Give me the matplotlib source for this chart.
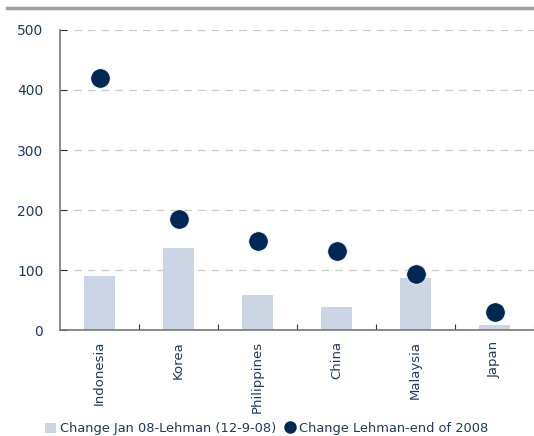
import matplotlib
matplotlib.use("Agg")
import matplotlib.pyplot as plt
from matplotlib.lines import Line2D
from matplotlib.patches import Patch

countries = ["Indonesia", "Korea", "Philippines", "China", "Malaysia", "Japan"]
change_pre_lehman = [90, 137, 58, 38, 87, 8]
change_post_lehman = [420, 185, 148, 132, 93, 30]

bar_color = "#CBD5E3"
dot_color = "#002855"
text_color = "#1F3A5F"

fig = plt.figure(figsize=(5.34, 4.36), dpi=100)
ax = fig.add_axes([0.1124, 0.2431, 0.8876, 0.6881])

x = range(len(countries))
ax.bar(x, change_pre_lehman, width=0.4, color=bar_color, zorder=2)
ax.plot(x, change_post_lehman, "o", color=dot_color, markersize=14,
        markeredgecolor="white", markeredgewidth=0.5, zorder=3)

ax.set_xlim(-0.5, len(countries) - 0.5)
ax.set_ylim(0, 500)
ax.set_yticks(range(0, 501, 100))
ax.yaxis.grid(True, linestyle=(0, (6, 5)), color="#C8C8C8", linewidth=0.9, zorder=0)
ax.set_axisbelow(True)

ax.set_xticks(list(x))
ax.set_xticklabels(countries, rotation=90, fontsize=9.5, color=text_color)
ax.set_xticks([i + 0.5 for i in x], minor=True)
ax.tick_params(axis="x", which="major", length=0, pad=8)
ax.tick_params(axis="x", which="minor", direction="in", length=4, width=0.8, color="#333333")
ax.tick_params(axis="y", direction="in", length=5, width=0.8, color="#333333",
               labelsize=10, labelcolor=text_color, pad=12)

for side in ["top", "right"]:
    ax.spines[side].set_visible(False)
for side in ["left", "bottom"]:
    ax.spines[side].set_color("#777777")
    ax.spines[side].set_linewidth(1.2)

# grey rule at the top of the page
fig.add_artist(Line2D([0.013, 1.0], [0.982, 0.982], transform=fig.transFigure,
                      color="#A0A0A0", linewidth=2.5))

handles = [Patch(facecolor=bar_color, edgecolor="none"),
           Line2D([], [], marker="o", linestyle="none", color=dot_color, markersize=8)]
labels = ["Change Jan 08-Lehman (12-9-08)", "Change Lehman-end of 2008"]
fig.legend(handles, labels, loc="lower center", bbox_to_anchor=(0.5, -0.025), ncol=2,
           frameon=False, fontsize=9.4, handlelength=0.8, handleheight=0.8,
           handletextpad=0.35, columnspacing=0.6, labelcolor=text_color)

fig.savefig("out.png", dpi=100)
